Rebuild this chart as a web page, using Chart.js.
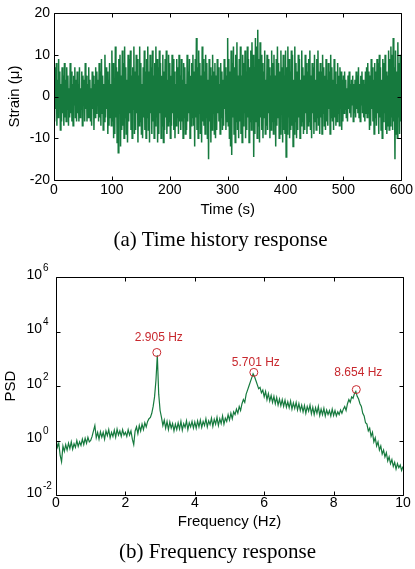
<!DOCTYPE html>
<html>
<head>
<meta charset="utf-8">
<script src="https://cdn.jsdelivr.net/npm/chart.js@4.4.1/dist/chart.umd.min.js"></script>
<style>
  html, body { margin: 0; padding: 0; background: #fff; }
  #page { position: relative; width: 415px; height: 569px; overflow: hidden; background: #fff; }
  canvas { position: absolute; left: 0; }
  #c1 { top: 0; }
  #c2 { top: 250px; }
  .cap { position: absolute; text-align: center;
         font-family: "Liberation Serif", "Times New Roman", serif; font-size: 21px; color: #000; line-height: 24px; }
  #capA { top: 227px; left: 13px; width: 415px; }
  #capB { top: 539px; left: 10px; width: 415px; }
</style>
</head>
<body>
<div id="page">
  <canvas id="c1" width="415" height="225"></canvas>
  <canvas id="c2" width="415" height="290"></canvas>
  <div class="cap" id="capA">(a) Time history response</div>
  <div class="cap" id="capB">(b) Frequency response</div>
</div>
<script>
// ---------- DATA ----------
// (a) strain time history, one sample every 1 s from 0 to 600 s
const timeStepSec = 1;
const strainMicro = [
  5,-6,7,-3,8,-7,4,-5,9,-2,6,-8,3,-6,7,-4,5,-7,8,-5,
  4,-6,7,-3,5,-7,2,-5,8,-4,6,-6,3,-7,5,-2,7,-5,4,-6,
  6,-4,3,-6,7,-5,2,-3,6,-7,5,-2,4,-6,8,-3,5,-6,3,-5,
  7,-5,4,-6,2,-7,6,-3,5,-8,3,-5,7,-4,6,-2,4,-6,8,-5,
  6,-7,9,-4,5,-8,3,-6,10,-5,7,-3,6,-9,4,-7,8,-5,3,-7,
  11,-6,8,-10,4,-9,12,-5,7,-11,6,-13.5,9,-4,10,-12,5,-8,11,-7,
  8,-10,12,-5,7,-9,4,-11,10,-6,9,-4,11,-8,5,-10,7,-3,12,-9,
  6,-8,10,-4,9,-11,5,-7,12,-6,8,-9,3,-10,7,-5,11,-8,6,-10,
  9,-5,12,-8,6,-11,10,-4,7,-9,11,-6,5,-10,8,-7,12,-5,9,-11,
  7,-9,11,-4,8,-10,5,-7,10,-11,6,-8,9,-5,11,-9,4,-7,10,-6,
  8,-10,5,-7,10,-4,9,-8,6,-10,3,-7,9,-5,7,-9,10,-6,5,-8,
  9,-6,4,-10,8,-5,7,-9,3,-8,10,-6,6,-4,9,-10,5,-7,8,-5,
  10,-7,6,-12,9,-5,14,-8,7,-10,11,-4,8,-9,5,-11,12,-6,9,-7,
  6,-9,10,-5,8,-10,4,-15,9,-6,7,-11,5,-8,10,-4,6,-9,8,-10,
  5,-8,9,-4,7,-6,3,-9,8,-5,6,-8,4,-7,9,-3,7,-8,5,-6,
  14,-7,9,-10,6,-12,11,-14,8,-5,12,-9,7,-11,10,-6,13,-8,5,-10,
  9,-6,12,-9,5,-11,10,-7,8,-4,11,-10,6,-8,12,-5,9,-11,7,-6,
  11,-8,13,-5,10,-14.5,7,-9,14,-6,12,-10,16,-7,9,-11,13,-5,10,-8,
  8,-10,6,-5,11,-9,4,-7,10,-8,9,-4,7,-10,5,-8,11,-6,8,-9,
  10,-6,5,-12,9,-7,12,-5,8,-10,6,-9,11,-4,7,-11,10,-8,5,-9,
  11,-14.5,7,-9,12,-5,9,-10,6,-8,11,-7,10,-12,4,-9,12,-6,8,-10,
  6,-8,10,-5,9,-10,4,-7,11,-6,7,-9,5,-8,10,-4,8,-9,6,-7,
  9,-6,11,-8,5,-10,8,-4,7,-9,10,-6,4,-8,9,-5,11,-7,6,-9,
  8,-5,6,-9,10,-4,7,-7,5,-8,9,-6,4,-7,8,-3,6,-9,10,-5,
  7,-6,4,-8,9,-5,6,-7,3,-6,8,-4,5,-7,7,-3,6,-8,4,-6,
  5,-4,6,-3,4,-5,2,-6,5,-3,6,-4,3,-5,4,-2,5,-6,3,-4,
  4,-5,6,-3,5,-4,7,-5,3,-6,5,-2,6,-4,4,-5,3,-6,6,-4,
  7,-5,8,-4,6,-8,5,-7,9,-3,7,-6,4,-9,8,-5,6,-7,9,-4,
  8,-9,10,-5,7,-8,4,-10,9,-6,8,-4,10,-8,6,-9,5,-7,11,-8,
  9,-7,12,-5,10,-8,14,-6,7,-15,11,-9,6,-10,13,-5,8,-9,10,-6,
  5
];
const timeTicks = [0, 100, 200, 300, 400, 500, 600];
const strainTicks = [-20, -10, 0, 10, 20];

// (b) PSD, one sample every 0.04 Hz from 0 to 10 Hz, stored as log10(PSD)
const freqStepHz = 0.04;
const psdLog10 = [
  0.1,-0.25,-0.1,-0.55,-0.78,-0.2,-0.4,-0.15,-0.35,-0.1,-0.3,-0.05,-0.32,-0.12,-0.25,0.0,-0.22,-0.05,-0.18,0.05,-0.15,0.08,-0.1,0.12,-0.05,
  0.0,0.15,0.35,0.55,0.1,0.3,0.05,0.32,0.12,0.3,0.05,0.35,0.18,0.4,0.1,0.3,0.15,0.38,0.12,0.42,0.2,0.35,0.15,0.4,0.2,
  0.3,0.15,0.4,0.2,0.35,0.05,-0.15,0.35,0.5,0.25,0.55,0.35,0.6,0.4,0.65,0.5,0.7,0.8,0.85,1.0,1.25,1.6,2.2,3.13,1.7,
  1.1,0.85,0.55,0.75,0.45,0.7,0.4,0.68,0.45,0.62,0.35,0.6,0.4,0.65,0.42,0.7,0.38,0.62,0.48,0.72,0.4,0.65,0.5,0.7,0.45,
  0.68,0.45,0.72,0.5,0.75,0.48,0.7,0.55,0.8,0.5,0.72,0.58,0.82,0.52,0.78,0.6,0.85,0.55,0.8,0.62,0.9,0.6,0.82,0.7,0.95,
  0.75,1.0,0.8,1.05,0.95,1.15,1.0,1.25,1.1,1.35,1.5,1.4,1.7,1.85,2.0,2.15,2.3,2.45,2.35,2.2,2.05,1.9,1.95,1.75,1.85,
  1.6,1.8,1.5,1.72,1.45,1.65,1.4,1.62,1.35,1.58,1.3,1.52,1.28,1.5,1.25,1.48,1.22,1.42,1.2,1.45,1.15,1.38,1.18,1.4,1.12,
  1.35,1.1,1.3,1.05,1.28,1.0,1.25,1.08,1.3,0.98,1.22,0.95,1.2,1.0,1.25,0.92,1.15,0.95,1.18,0.9,1.12,0.95,1.1,0.9,1.15,
  0.92,1.1,0.9,1.05,0.95,1.12,1.0,1.15,1.25,1.1,1.35,1.5,1.4,1.6,1.55,1.72,1.8,1.62,1.52,1.35,1.25,1.0,0.9,0.65,0.6,
  0.35,0.45,0.15,0.3,-0.05,0.1,-0.2,-0.05,-0.35,-0.2,-0.5,-0.35,-0.6,-0.45,-0.75,-0.6,-0.85,-0.7,-0.95,-0.8,-1.05,-0.85,-1.0,-0.9,-1.1,
  -0.95
];
const peakFreqHz = [2.905, 5.701, 8.654];
const peakPSD = [1700, 316, 74];
const peakLabels = ['2.905 Hz', '5.701 Hz', '8.654 Hz'];
const freqTicks = [0, 2, 4, 6, 8, 10];
const psdTickExp = [-2, 0, 2, 4, 6];

// ---------- STYLE ----------
const GREEN = '#167a3e';
const RED = '#c8282e';
const SANS = '"Liberation Sans", Arial, Helvetica, sans-serif';

Chart.defaults.font.family = SANS;
Chart.defaults.color = '#000';

// draws box frame + inward ticks on all 4 sides
const frameTicks = {
  id: 'frameTicks',
  afterDatasetsDraw(chart, args, opts) {
    const { ctx, chartArea: a } = chart;
    const xs = chart.scales.x, ys = chart.scales.y;
    ctx.save();
    ctx.strokeStyle = '#000';
    ctx.lineWidth = 1;
    const L = Math.round(a.left) + 0.5, R = Math.round(a.right) + 0.5;
    const T = Math.round(a.top) + 0.5, B = Math.round(a.bottom) + 0.5;
    ctx.beginPath();
    ctx.rect(L, T, R - L, B - T);
    ctx.stroke();
    const len = 4;
    ctx.beginPath();
    opts.xTicks.forEach(v => {
      const px = Math.round(xs.getPixelForValue(v)) + 0.5;
      ctx.moveTo(px, B); ctx.lineTo(px, B - len);
      ctx.moveTo(px, T); ctx.lineTo(px, T + len);
    });
    opts.yTicks.forEach(v => {
      const py = Math.round(ys.getPixelForValue(v)) + 0.5;
      ctx.moveTo(L, py); ctx.lineTo(L + len, py);
      ctx.moveTo(R, py); ctx.lineTo(R - len, py);
    });
    ctx.stroke();
    ctx.restore();
  }
};

// ---------- CHART (a) ----------
const timeSeries = strainMicro.map((v, i) => ({ x: i * timeStepSec, y: v }));

new Chart(document.getElementById('c1'), {
  type: 'line',
  data: {
    datasets: [{
      data: timeSeries,
      borderColor: GREEN,
      borderWidth: 1.5,
      pointRadius: 0,
      tension: 0,
      fill: false
    }]
  },
  options: {
    responsive: false,
    animation: false,
    devicePixelRatio: 1,
    layout: { padding: { top: 13, right: 11, left: 0, bottom: 0 } },
    plugins: {
      legend: { display: false },
      tooltip: { enabled: false },
      frameTicks: { xTicks: timeTicks, yTicks: strainTicks }
    },
    scales: {
      x: {
        type: 'linear', min: 0, max: 600,
        afterBuildTicks: s => { s.ticks = timeTicks.map(v => ({ value: v })); },
        afterFit: s => { s.height = 45; },
        grid: { display: false, drawTicks: false },
        border: { display: false },
        ticks: { font: { size: 14 }, padding: 2, autoSkip: false, maxRotation: 0 },
        title: { display: true, text: 'Time (s)', font: { size: 15 }, padding: { top: 0, bottom: 6 } }
      },
      y: {
        type: 'linear', min: -20, max: 20,
        afterBuildTicks: s => { s.ticks = strainTicks.map(v => ({ value: v })); },
        afterFit: s => { s.width = 54; },
        grid: { display: false, drawTicks: false },
        border: { display: false },
        ticks: { font: { size: 14 }, padding: 4 },
        title: { display: true, text: 'Strain (μ)', font: { size: 15 }, padding: { top: 6, bottom: 0 } }
      }
    }
  },
  plugins: [frameTicks]
});

// ---------- CHART (b) ----------
const psdSeries = psdLog10.map((v, i) => ({ x: +(i * freqStepHz).toFixed(2), y: Math.pow(10, v) }));
const peakSeries = peakFreqHz.map((f, i) => ({ x: f, y: peakPSD[i] }));
const psdTickValues = psdTickExp.map(e => Math.pow(10, e));

const peakLabelPlugin = {
  id: 'peakLabelPlugin',
  afterDatasetsDraw(chart, args, opts) {
    const { ctx } = chart;
    const xs = chart.scales.x, ys = chart.scales.y;
    ctx.save();
    ctx.fillStyle = RED;
    ctx.font = '12px ' + SANS;
    ctx.textAlign = 'center';
    ctx.textBaseline = 'middle';
    peakSeries.forEach((p, i) => {
      const px = xs.getPixelForValue(p.x) + 2;
      const py = ys.getPixelForValue(p.y) - opts.offsets[i];
      ctx.fillText(peakLabels[i], px, py);
    });
    ctx.restore();
  }
};

const logLabelPlugin = {
  id: 'logLabelPlugin',
  afterDraw(chart) {
    const { ctx } = chart;
    const ys = chart.scales.y;
    const xr = chart.chartArea.left - 14;
    ctx.save();
    ctx.fillStyle = '#000';
    psdTickExp.forEach(e => {
      const py = ys.getPixelForValue(Math.pow(10, e));
      ctx.font = '14px ' + SANS;
      ctx.textAlign = 'right';
      ctx.textBaseline = 'middle';
      ctx.fillText('10', xr, py - 2);
      ctx.font = '10px ' + SANS;
      ctx.textAlign = 'left';
      ctx.fillText(e < 0 ? '-' + Math.abs(e) : String(e), xr + 1, py - 9);
    });
    ctx.restore();
  }
};

new Chart(document.getElementById('c2'), {
  type: 'line',
  data: {
    datasets: [
      {
        type: 'scatter',
        data: peakSeries,
        showLine: false,
        pointStyle: 'circle',
        pointRadius: 4,
        borderColor: RED,
        backgroundColor: 'rgba(0,0,0,0)',
        borderWidth: 1,
        order: 0
      },
      {
        data: psdSeries,
        borderColor: GREEN,
        borderWidth: 1.2,
        pointRadius: 0,
        tension: 0,
        fill: false,
        order: 1
      }
    ]
  },
  options: {
    responsive: false,
    animation: false,
    devicePixelRatio: 1,
    layout: { padding: { top: 27, right: 12, left: 0, bottom: 0 } },
    plugins: {
      legend: { display: false },
      tooltip: { enabled: false },
      frameTicks: { xTicks: freqTicks, yTicks: psdTickValues },
      peakLabelPlugin: { offsets: [15, 10, 17] }
    },
    scales: {
      x: {
        type: 'linear', min: 0, max: 10,
        afterBuildTicks: s => { s.ticks = freqTicks.map(v => ({ value: v })); },
        afterFit: s => { s.height = 45; },
        grid: { display: false, drawTicks: false },
        border: { display: false },
        ticks: { font: { size: 14 }, padding: 0, autoSkip: false, maxRotation: 0 },
        title: { display: true, text: 'Frequency (Hz)', font: { size: 15 }, padding: { top: 0, bottom: 9 } }
      },
      y: {
        type: 'logarithmic', min: 1e-2, max: 1e6,
        afterBuildTicks: s => { s.ticks = psdTickValues.map(v => ({ value: v })); },
        afterFit: s => { s.width = 56; },
        grid: { display: false, drawTicks: false },
        border: { display: false },
        ticks: { display: false },
        title: { display: true, text: 'PSD', font: { size: 15 }, padding: { top: 2, bottom: 0 } }
      }
    }
  },
  plugins: [frameTicks, peakLabelPlugin, logLabelPlugin]
});
</script>
</body>
</html>
